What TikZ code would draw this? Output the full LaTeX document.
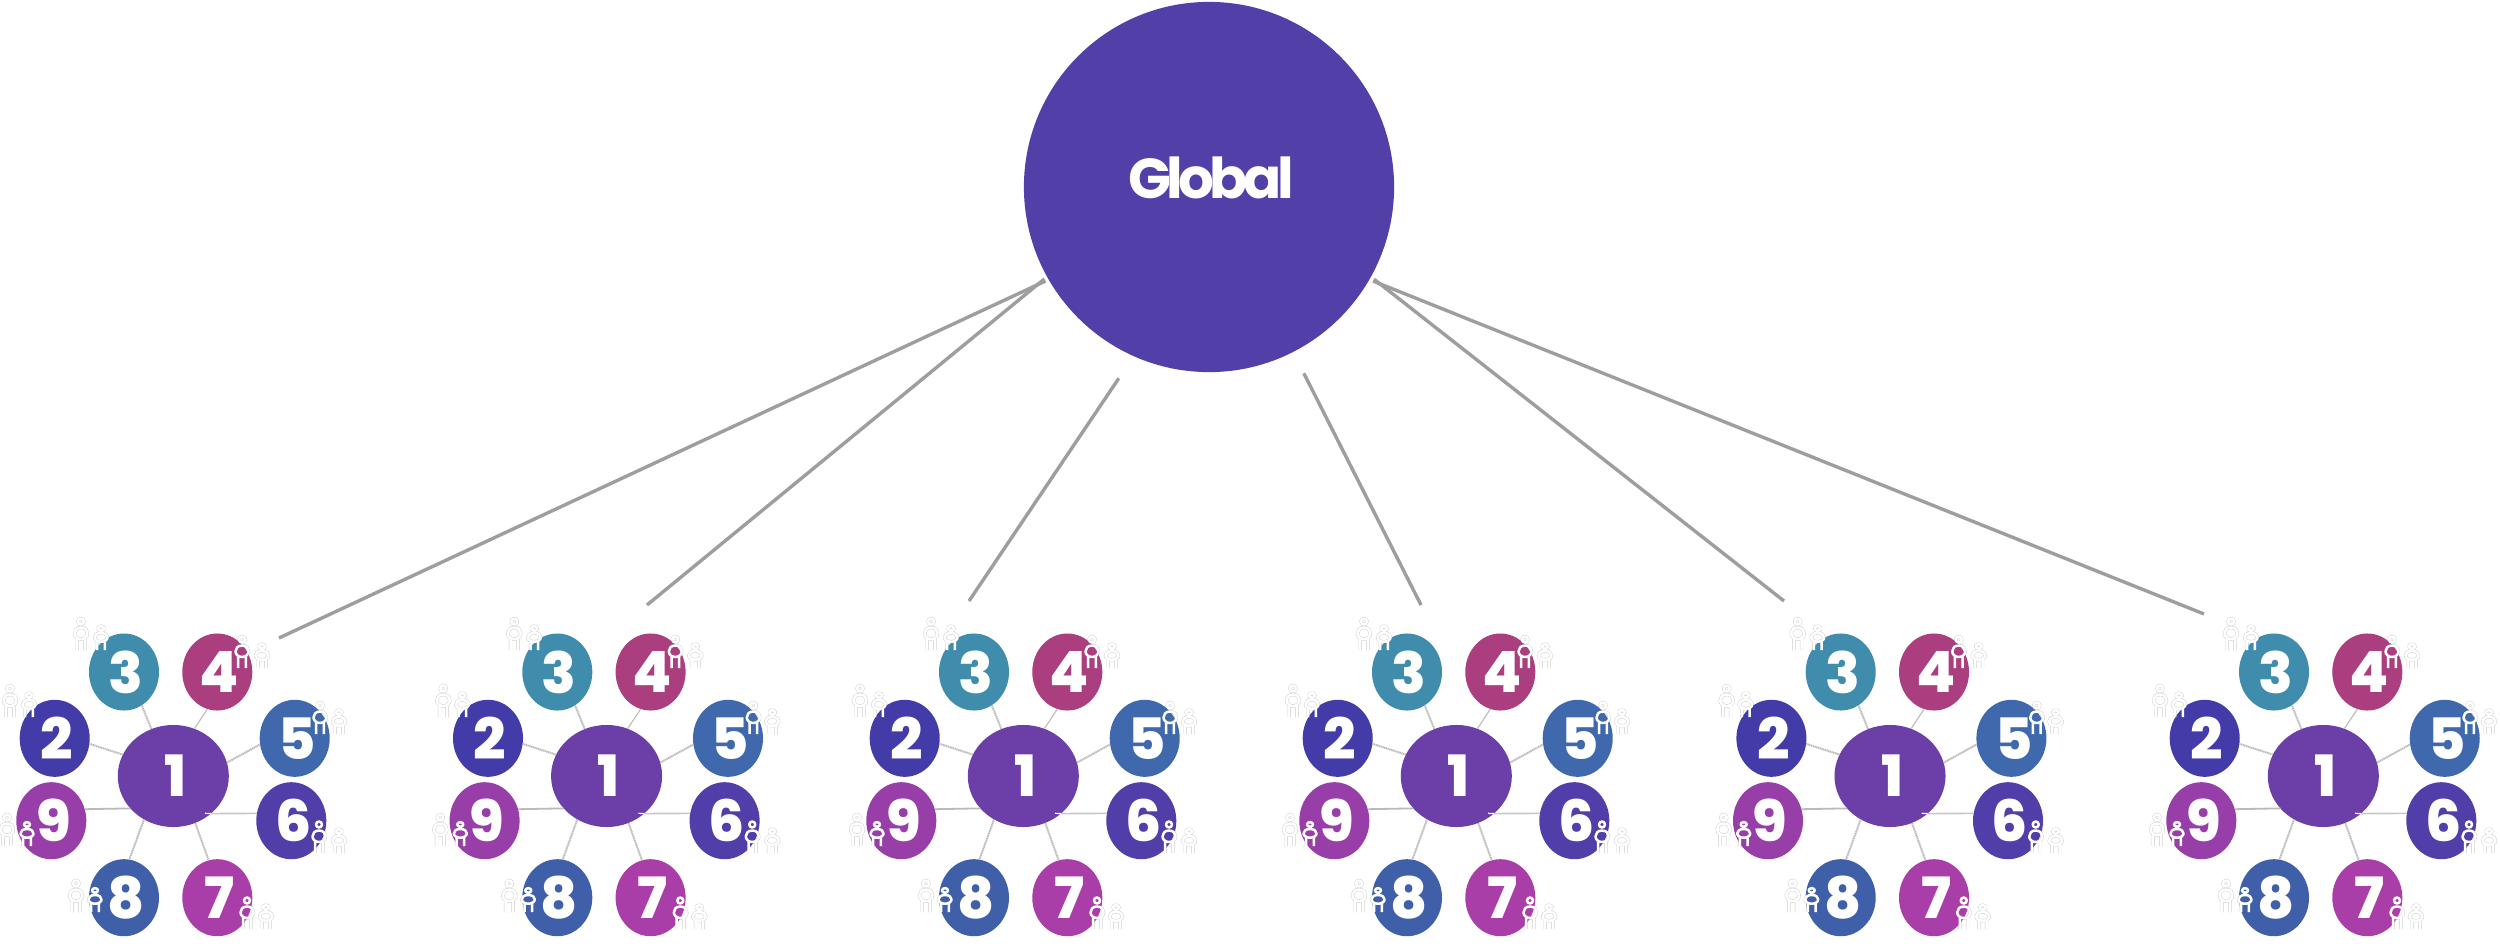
\documentclass[tikz,border=0pt]{standalone}
\usepackage{fontspec}
\setmainfont{Poppins}
\newfontface\heavy{Poppins ExtraBold}
\usetikzlibrary{shapes.geometric}
\definecolor{cg}{HTML}{5240A8}
\definecolor{ca}{HTML}{6C3EA8}
\definecolor{cb}{HTML}{433CA8}
\definecolor{cc}{HTML}{408CAD}
\definecolor{cd}{HTML}{AA3E7F}
\definecolor{ce}{HTML}{4069AD}
\definecolor{cf}{HTML}{523EA8}
\definecolor{ch}{HTML}{AA3EA8}
\definecolor{ci}{HTML}{405FA9}
\definecolor{cj}{HTML}{983EA8}
\tikzset{
  x=0.01cm,y=-0.01cm,
  hubnode/.style={circle,fill=cg,text=white,minimum size=3.7cm,inner sep=0pt,outer sep=0pt,font=\fontsize{16pt}{16pt}\selectfont\bfseries},
  centernode/.style={ellipse,inner sep=0pt,outer sep=0pt,minimum width=1.11cm,minimum height=1.02cm,text=white,font=\fontsize{16.2pt}{16.2pt}\heavy},
  petal/.style={ellipse,inner sep=0pt,outer sep=0pt,minimum width=0.70cm,minimum height=0.77cm,text=white,font=\fontsize{16.2pt}{16.2pt}\heavy},
  globalline/.style={draw=black!38,line width=0.034cm},
  dotlink/.style={draw=black!27,line width=0.02cm,dash pattern=on 0.012cm off 0.006cm},
  thinlink/.style={draw=black!25,line width=0.012cm},
  sollink/.style={draw=black!22,line width=0.016cm},
  haloperson/.style={draw=black!20,line width=0.034cm,line join=round},
  whiteperson/.style={draw=white,line width=0.025cm,line join=round},
}
\newcommand\personshape[4]{%
  \draw[#1,shift={(#2,#3)},yscale=#4]
    (0,4.5) circle[radius=3]
    (0,10.5) .. controls (4.5,10.5) and (6.5,13.5) .. (6.5,16.5)
    .. controls (6.5,19.5) and (3.5,22) .. (0,22)
    .. controls (-3.5,22) and (-6.5,19.5) .. (-6.5,16.5)
    .. controls (-6.5,13.5) and (-4.5,10.5) .. (0,10.5) -- cycle
    (-3.8,21) -- (-3.8,33)
    (3.8,21) -- (3.8,33);}
\newcommand\crowd[1]{%
  \foreach \px/\py in {81/617,10/684,242/635,320/701,319/820,7/813,76/879,247/896}
    {\personshape{#1}{\px}{\py}{1}}
  \foreach \px/\py in {101/625,29/692,262/643,339/709,339/828,27/821,95/887,266/904}
    {\personshape{#1}{\px}{\py}{0.76}}}
\begin{document}
\begin{tikzpicture}
\useasboundingbox (0,0) rectangle (2500,951);
\node[hubnode] (g) at (1209,187) {\hspace*{0.04cm}\raisebox{0.18cm}{\addfontfeature{LetterSpace=-8}Global}};
\foreach \i/\xo/\ex/\ey/\ang/\sh in {
  1/0/279/638/210.07/0.035,
  2/433.3/647/605/209.8/0.035,
  3/850/969/601/246.8/0.267,
  4/1283/1421/605/-63.7/0.239,
  5/1716.7/1784/601/-29.6/0.04,
  6/2150/2204/614/-30/0.04}{
  \coordinate (e\i) at (\ex,\ey);
  \draw[globalline,shorten <=\sh cm] (g.\ang) -- (e\i);
  \begin{scope}[shift={(\xo,0)}]
    \crowd{haloperson}
    \node[centernode,fill=ca] (a\i) at (173.3,776) {\hspace*{0.04cm}1};
    \node[petal,fill=cb] (b\i) at (54.7,738.3) {\hspace*{0.04cm}2};
    \node[petal,fill=cc] (c\i) at (124,672) {\hspace*{0.04cm}3};
    \node[petal,fill=cd] (d\i) at (217.3,672) {\hspace*{0.04cm}4};
    \node[petal,fill=ce] (f\i) at (294.7,738.3) {\hspace*{0.05cm}5};
    \node[petal,fill=cf] (h\i) at (291.3,820.7) {\hspace*{0.04cm}6};
    \node[petal,fill=ch] (i\i) at (217.3,897.7) {\hspace*{0.04cm}7};
    \node[petal,fill=ci] (j\i) at (124,897.7) {\hspace*{0.04cm}8};
    \node[petal,fill=cj] (k\i) at (51.3,820.7) {\hspace*{0.04cm}9};
    \coordinate (t\i) at (205,813.3);
    \draw[dotlink] (a\i.157) -- (b\i.-9);
    \draw[dotlink] (a\i.115.4) -- (c\i.-62.5);
    \draw[thinlink] (a\i.66.6) -- (d\i.-105.7);
    \draw[dotlink] (a\i.14.2) -- (f\i.190.9);
    \draw[sollink] (a\i.-45.5) -- (h\i.168);
    \draw[draw=white,line width=0.012cm] (t\i) -- (a\i.-45.5);
    \draw[dotlink] (a\i.-65.7) -- (i\i.103.4);
    \draw[dotlink] (a\i.236) -- (j\i.82);
    \draw[black!27,line width=0.018cm] (a\i.217) -- (k\i.19);
    \crowd{whiteperson}
  \end{scope}
}
\end{tikzpicture}
\end{document}
